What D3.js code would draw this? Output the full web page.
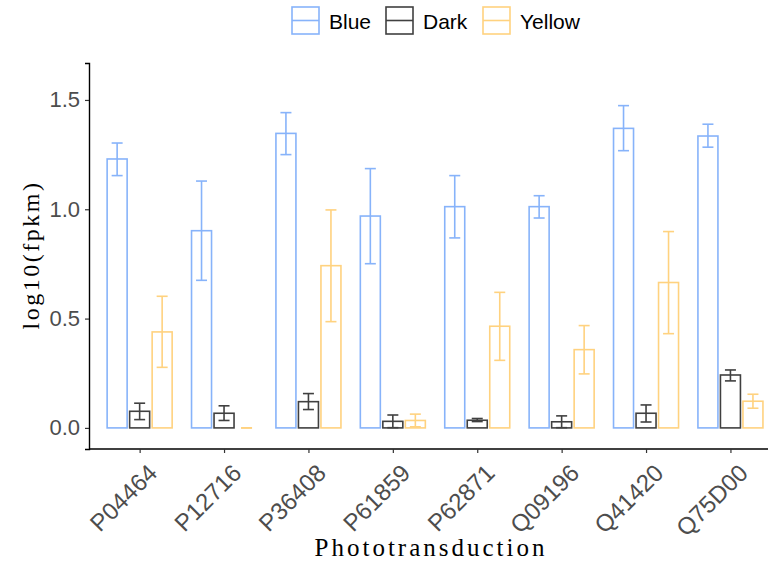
<!DOCTYPE html>
<html>
<head>
<meta charset="utf-8">
<script src="https://cdn.jsdelivr.net/npm/d3@7"></script>
<style>
  body { margin: 0; background: #fff; }
  svg { display: block; }
</style>
</head>
<body>
<div id="chart"></div>
<script>
var categories = ['P04464', 'P12716', 'P36408', 'P61859', 'P62871', 'Q09196', 'Q41420', 'Q75D00'];
var groups = ['Blue', 'Dark', 'Yellow'];
var colors = ['#87b3fa', '#404040', '#ffd27f'];

var blueMean = [1.230, 0.902, 1.347, 0.969, 1.012, 1.012, 1.370, 1.335];
var blueLow = [1.154, 0.675, 1.250, 0.751, 0.869, 0.960, 1.268, 1.284];
var blueHigh = [1.303, 1.129, 1.442, 1.186, 1.154, 1.062, 1.474, 1.389];

var darkMean = [0.076, 0.067, 0.120, 0.030, 0.035, 0.028, 0.067, 0.242];
var darkLow = [0.038, 0.034, 0.084, 0.001, 0.029, 0.001, 0.027, 0.215];
var darkHigh = [0.113, 0.101, 0.157, 0.059, 0.043, 0.055, 0.105, 0.265];

var yellowMean = [0.439, 0.000, 0.742, 0.034, 0.465, 0.358, 0.665, 0.122];
var yellowLow = [0.277, 0.000, 0.486, 0.005, 0.309, 0.247, 0.431, 0.090];
var yellowHigh = [0.602, 0.000, 0.997, 0.063, 0.620, 0.468, 0.898, 0.154];

var yTicks = [0, 0.5, 1.0, 1.5];

(function() {
  var width = 768, height = 562;
  var mLeft = 89, mTop = 63, mBottom = 449;

  var rows = [];
  var means = [blueMean, darkMean, yellowMean];
  var lows = [blueLow, darkLow, yellowLow];
  var highs = [blueHigh, darkHigh, yellowHigh];
  categories.forEach(function(c, i) {
    groups.forEach(function(g, j) {
      rows.push({cat: c, group: g, mean: means[j][i], low: lows[j][i], high: highs[j][i], color: colors[j]});
    });
  });

  var svg = d3.select('#chart').append('svg')
    .attr('width', width)
    .attr('height', height);

  // band step 84.4 px, 0.6 step expansion at the left
  var step = 84.4;
  var x = d3.scalePoint().domain(categories)
    .range([mLeft + 0.6 * step, mLeft + 0.6 * step + step * (categories.length - 1)]);
  var sub = d3.scalePoint().domain(groups).range([-step * 0.8 / 3, step * 0.8 / 3]);
  var barW = 20;
  var capW = 11;

  var y = d3.scaleLinear().domain([-0.0965, 1.669]).range([mBottom, mTop]);

  // bars
  svg.append('g').selectAll('rect').data(rows).enter().append('rect')
    .attr('x', function(d) { return x(d.cat) + sub(d.group) - barW / 2; })
    .attr('y', function(d) { return y(d.mean); })
    .attr('width', barW)
    .attr('height', function(d) { return y(0) - y(d.mean); })
    .attr('fill', 'white')
    .attr('stroke', function(d) { return d.color; })
    .attr('stroke-width', 1.6);

  // error bars
  var eb = svg.append('g').selectAll('g').data(rows).enter().append('g')
    .attr('stroke', function(d) { return d.color; })
    .attr('stroke-width', 1.6);
  eb.append('line')
    .attr('x1', function(d) { return x(d.cat) + sub(d.group); })
    .attr('x2', function(d) { return x(d.cat) + sub(d.group); })
    .attr('y1', function(d) { return y(d.low); })
    .attr('y2', function(d) { return y(d.high); });
  eb.append('line')
    .attr('x1', function(d) { return x(d.cat) + sub(d.group) - capW / 2; })
    .attr('x2', function(d) { return x(d.cat) + sub(d.group) + capW / 2; })
    .attr('y1', function(d) { return y(d.high); })
    .attr('y2', function(d) { return y(d.high); });
  eb.append('line')
    .attr('x1', function(d) { return x(d.cat) + sub(d.group) - capW / 2; })
    .attr('x2', function(d) { return x(d.cat) + sub(d.group) + capW / 2; })
    .attr('y1', function(d) { return y(d.low); })
    .attr('y2', function(d) { return y(d.low); });

  // axes
  var yAxis = svg.append('g')
    .attr('transform', 'translate(' + mLeft + ',0)')
    .call(d3.axisLeft(y).tickValues(yTicks).tickFormat(d3.format('.1f')).tickSizeOuter(0).tickSize(4).tickPadding(5));
  var xAxis = svg.append('g')
    .attr('transform', 'translate(0,' + mBottom + ')')
    .call(d3.axisBottom(x).tickSizeOuter(0).tickSize(4));

  [yAxis, xAxis].forEach(function(a) {
    a.select('.domain').attr('stroke', 'black').attr('stroke-width', 1.4);
    a.selectAll('.tick line').attr('stroke', '#333').attr('stroke-width', 1.2);
    a.selectAll('.tick text').attr('fill', '#4d4d4d')
      .style('font-family', 'Liberation Sans, Arial, sans-serif').style('font-size', '22px');
  });
  xAxis.select('.domain').attr('d', 'M' + mLeft + ',0H' + width);

  xAxis.selectAll('.tick text')
    .style('font-size', '24px')
    .attr('text-anchor', 'end')
    .attr('dy', null)
    .attr('x', 0).attr('y', 0)
    .attr('dominant-baseline', 'hanging')
    .attr('transform', 'translate(6,13) rotate(-45)');

  // axis titles
  svg.append('text')
    .attr('x', 431)
    .attr('y', 556)
    .attr('text-anchor', 'middle')
    .style('font-family', 'Liberation Serif, Times New Roman, serif')
    .style('font-size', '25px')
    .style('letter-spacing', '3px')
    .text('Phototransduction');

  svg.append('text')
    .attr('transform', 'translate(39,255) rotate(-90)')
    .attr('text-anchor', 'middle')
    .style('font-family', 'Liberation Serif, Times New Roman, serif')
    .style('font-size', '24px')
    .style('letter-spacing', '2.5px')
    .text('log10(fpkm)');

  // legend
  var legendX = [292, 386, 483];
  var lg = svg.append('g').selectAll('g').data(groups).enter().append('g')
    .attr('transform', function(d, i) { return 'translate(' + legendX[i] + ',7)'; });
  lg.append('rect')
    .attr('width', 27).attr('height', 27)
    .attr('fill', 'white')
    .attr('stroke', function(d, i) { return colors[i]; })
    .attr('stroke-width', 1.6);
  lg.append('line')
    .attr('x1', 0).attr('x2', 27).attr('y1', 13.5).attr('y2', 13.5)
    .attr('stroke', function(d, i) { return colors[i]; })
    .attr('stroke-width', 1.6);
  lg.append('text')
    .attr('x', 37).attr('y', 21.5)
    .style('font-family', 'Liberation Sans, Arial, sans-serif')
    .style('font-size', '21px')
    .text(function(d) { return d; });
}).call(this);
</script>
</body>
</html>
